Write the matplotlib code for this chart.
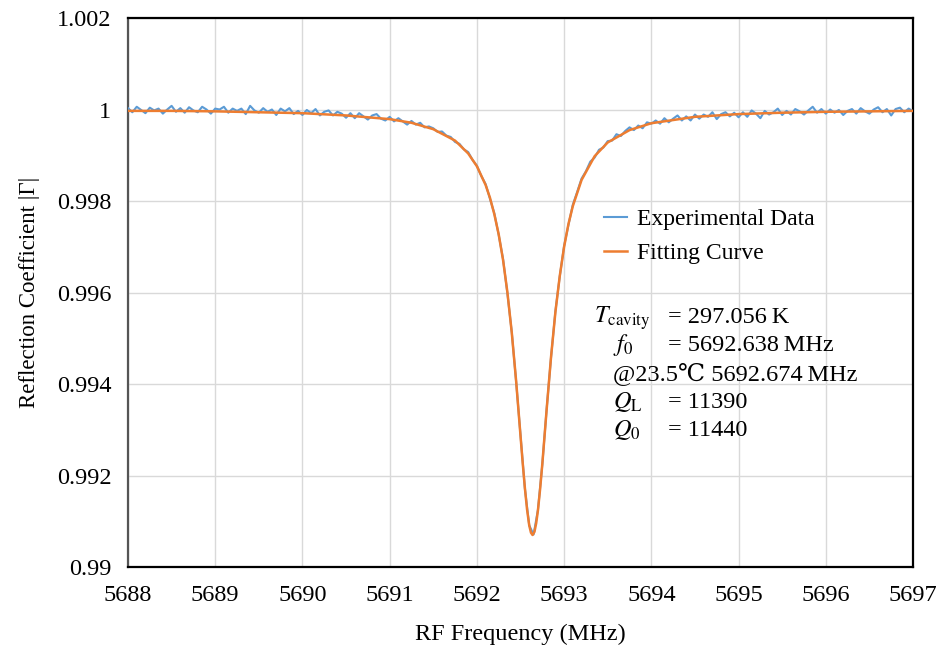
import numpy as np
import matplotlib
matplotlib.use('Agg')
import matplotlib.pyplot as plt
from matplotlib.ticker import FixedLocator, FixedFormatter

plt.rcParams['font.family'] = ['Liberation Serif', 'DejaVu Serif', 'Noto Sans CJK JP']
plt.rcParams['mathtext.fontset'] = 'stix'

# sweep 5688 -> 5697 MHz, 0.05 MHz step
freq_start, freq_stop, freq_step = 5688.0, 5697.0, 0.05

exp_gamma = [
    1.00003, .99994, 1.00006, .99999, .99992, 1.00004, .99998, 1.00002, .99991, 1.00000,
    1.00008, .99995, 1.00003, .99993, 1.00005, .99998, .99994, 1.00006, 1.00000, .99991, 1.00002,
    1.00000, 1.00006, .99993, 1.00002, .99997, 1.00002, .99990, 1.00008, .99998, .99993,
    1.00003, .99995, 1.00000, .99988, 1.00002, .99996, 1.00003, .99990, .99997, .99988,
    .99999, .99992, 1.00001, .99987, .99995, .99998, .99987, .99995, .99991, .99982,
    .99992, .99981, .99992, .99985, .99978, .99987, .99990, .99980, .99976, .99984,
    .99974, .99981, .99974, .99967, .99975, .99967, .99971, .99961, .99963,
    .99959, .99951, .99952, .99943, .99940, .99929, .99925, .99913, .99907, .99890,
    .99877, .99855, .99837, .99805, .99773, .99726, .99673, .99598, .99513, .99405,
    .99288, .99172, .99091, .99071, .99125, .99224, .99346, .99458, .99559, .99635,
    .99702, .99748, .99792, .99820, .99849, .99865, .99886, .99895, .99912, .99917, .99931,
    .99932, .99946, .99942, .99953, .99961, .99955, .99965, .99959, .99972, .99969,
    .99976, .99969, .99981, .99972, .99980, .99987, .99976, .99985, .99976, .99989,
    .99980, .99989, .99984, .99994, .99979, .99990, .99994, .99985, .99993, .99983,
    .99994, .99984, .99998, .99991, .99981, .99997, .99989, .99994, 1.00002, .99988,
    .99997, .99989, 1.00001, .99996, .99989, .99998, 1.00006, .99993, 1.00001, .99991,
    1.00000, .99993, .99999, .99988, .99997, 1.00001, .99991, 1.00003, .99996, .99991,
    1.00000, 1.00005, .99994, 1.00001, .99987, 1.00001, 1.00004, .99994, 1.00002, .99996,
]

# fitted curve
fit_freq = [5688, 5688.5, 5689, 5689.5, 5690, 5690.5, 5691, 5691.25, 5691.5, 5691.75,
            5691.9, 5692.0, 5692.1, 5692.15, 5692.2, 5692.25, 5692.3, 5692.35, 5692.4, 5692.45,
            5692.5, 5692.525, 5692.55, 5692.575, 5692.6, 5692.62, 5692.638, 5692.66, 5692.68, 5692.7,
            5692.725, 5692.75, 5692.775, 5692.8, 5692.85, 5692.9, 5692.95, 5693.0, 5693.05, 5693.1,
            5693.2, 5693.35, 5693.5, 5693.75, 5694, 5694.5, 5695, 5695.5, 5696, 5696.5, 5697]
fit_gamma = [.99997, .99997, .99996, .99994, .99992, .99987, .99979, .99971, .99957, .99932,
             .99904, .99876, .99835, .99807, .99771, .99727, .99671, .99600, .99512, .99406,
             .99287, .99228, .99173, .99126, .99091, .99075, .99070, .99077, .99096, .99124,
             .99171, .99225, .99285, .99345, .99459, .99557, .99636, .99700, .99750, .99789,
             .99846, .99898, .99928, .99955, .99970, .99984, .99990, .99993, .99995, .99996, .99997]

ytick_vals = [0.99, 0.992, 0.994, 0.996, 0.998, 1.0, 1.002]
ytick_labels = ['0.99', '0.992', '0.994', '0.996', '0.998', '1', '1.002']
xtick_vals = [5688, 5689, 5690, 5691, 5692, 5693, 5694, 5695, 5696, 5697]

ann_names = [r'$T_{\mathrm{cavity}}$', r'$f_0$', '', r'$Q_{\mathrm{L}}$', r'$Q_0$']
ann_values = ['= 297.056\u2009K', '= 5692.638\u2009MHz', '@23.5\u2103 5692.674\u2009MHz', '= 11390', '= 11440']

exp_freq = np.arange(freq_start, freq_stop + freq_step / 2, freq_step)

fig = plt.figure(figsize=(9.37, 6.48), dpi=100)
ax = fig.add_axes([0.1366, 0.125, 0.8378, 0.8472])

ax.plot(exp_freq, exp_gamma, color='#5B9BD5', lw=1.5, label='Experimental Data', zorder=3)
ax.plot(fit_freq, fit_gamma, color='#ED7D31', lw=1.8, label='Fitting Curve', zorder=4)

ax.set_xlim(5688, 5697)
ax.set_ylim(0.99, 1.002)
ax.xaxis.set_major_locator(FixedLocator(xtick_vals))
ax.yaxis.set_major_locator(FixedLocator(ytick_vals))
ax.yaxis.set_major_formatter(FixedFormatter(ytick_labels))
ax.grid(True, color='#d9d9d9', lw=1.0)
ax.set_axisbelow(True)
ax.tick_params(length=0, labelsize=17.5)
ax.tick_params(axis='y', pad=12)
ax.tick_params(axis='x', pad=13)
for s in ax.spines.values():
    s.set_linewidth(1.6)
    s.set_color('black')
ax.spines['left'].set_color('#555555')

ax.set_xlabel('RF Frequency (MHz)', fontsize=17.5, labelpad=13)
ax.set_ylabel('Reflection Coefficient |\u0393|', fontsize=16.5, labelpad=12)

ax.legend(loc='upper left', bbox_to_anchor=(0.591, 0.675), frameon=False, fontsize=17,
          handlelength=1.0, handletextpad=0.4, labelspacing=0.55, borderpad=0)

name_x = [0.594, 0.618, 0.618, 0.618, 0.618]
line_y = [0.4536, 0.404, 0.353, 0.300, 0.2495]
for i in range(len(ann_names)):
    if ann_names[i]:
        ax.text(name_x[i], line_y[i], ann_names[i], transform=ax.transAxes, fontsize=17.5, va='center')
        ax.text(0.688, line_y[i], ann_values[i], transform=ax.transAxes, fontsize=17.5, va='center')
    else:
        ax.text(0.618, line_y[i], ann_values[i], transform=ax.transAxes, fontsize=17.5, va='center')

fig.savefig('out.png', dpi=100)
